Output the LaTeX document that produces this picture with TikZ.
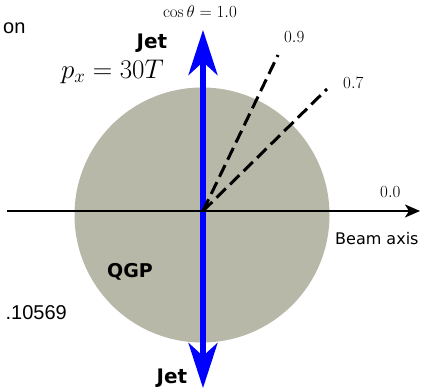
\RequirePackage{fix-cm}
\documentclass[tikz,border=0pt]{standalone}
\usepackage[no-math]{fontspec}
\setmainfont{DejaVu Sans}
\newfontfamily\cutfont{Liberation Sans}
\usetikzlibrary{arrows.meta}
\definecolor{qgpgray}{RGB}{184,184,169}

\begin{document}
\begin{tikzpicture}[x=1pt,y=-1pt]
\useasboundingbox (0,0) rectangle (423,391);
\fill[qgpgray] (202,215) circle (127.5);

\coordinate (origin) at (203,211);
\coordinate (jettop) at (203,30);
\coordinate (jetbot) at (203,388);
\coordinate (beamleft) at (7,211);
\coordinate (beamright) at (420,211);
\coordinate (cosnine) at (278,55);
\coordinate (cosseven) at (327,89);

\draw[blue, line width=5.5pt, {Stealth[length=45pt,width=29pt,inset=13pt]}-{Stealth[length=45pt,width=29pt,inset=13pt]}] (jettop) -- (jetbot);
\draw[line width=2pt, -{Stealth[length=15pt,width=13pt,inset=4pt]}] (beamleft) -- (beamright);
\draw[line width=3pt, dash pattern=on 13pt off 6pt] (origin) -- (cosnine);
\draw[line width=3pt, dash pattern=on 13pt off 6pt] (origin) -- (cosseven);

\node[anchor=base east, inner sep=0] (costop) at (237,17) {\fontsize{17}{20}\selectfont $\cos\theta = 1.0$};
\node[anchor=base west, inner sep=0] (labnine) at (284,42) {\fontsize{17}{20}\selectfont $0.9$};
\node[anchor=base west, inner sep=0] (labseven) at (343,88) {\fontsize{17}{20}\selectfont $0.7$};
\node[anchor=base west, inner sep=0] (labzero) at (380,197) {\fontsize{17}{20}\selectfont $0.0$};
\node[anchor=base west, inner sep=0] (beam) at (335,244) {\fontsize{16}{19}\selectfont Beam axis};
\node[anchor=base, inner sep=0] (jetup) at (152,48) {\fontsize{20}{24}\selectfont\bfseries Jet};
\node[anchor=base, inner sep=0] (jetdown) at (172,383) {\fontsize{20}{24}\selectfont\bfseries Jet};
\node[anchor=base, inner sep=0] (qgp) at (130,277) {\fontsize{19}{23}\selectfont\bfseries QGP};
\node[anchor=base west, inner sep=0] (momentum) at (61,78) {\fontsize{27}{32}\selectfont $p_x = 30T$};
\node[anchor=base west, inner sep=0] (cuttop) at (3,33) {\fontsize{20}{24}\selectfont\cutfont on};
\node[anchor=base east, inner sep=0] (cutbot) at (67,319) {\fontsize{20}{24}\selectfont\cutfont .10569};
\end{tikzpicture}
\end{document}
